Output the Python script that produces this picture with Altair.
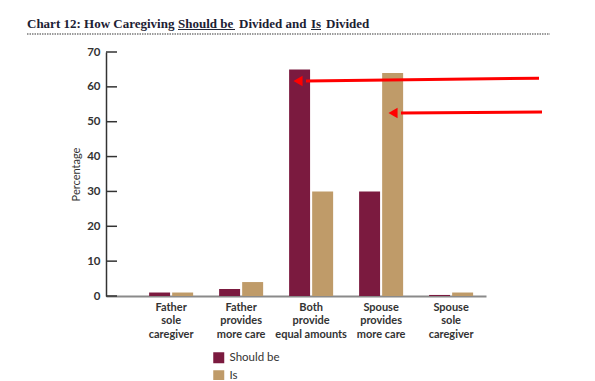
import altair as alt
import pandas as pd

categories = ["Father\nsole\ncaregiver", "Father\nprovides\nmore care", "Both\nprovide\nequal amounts",
              "Spouse\nprovides\nmore care", "Spouse\nsole\ncaregiver"]
should_be = [1, 2, 65, 30, 0.3]
is_vals = [1, 4, 30, 64, 1]
series = ["Should be", "Is"]
colors = ["#7B1A3F", "#BF9B69"]
y_ticks = [0, 10, 20, 30, 40, 50, 60, 70]

# title pieces (text, left x in px relative to plot)
title_parts = ["Chart 12: How Caregiving", "Should be", "Divided and", "Is", "Divided"]
title_x = [-79, 72, 133, 205, 220]
underline_start = [72, 205]
underline_end = [129, 215]

# annotation arrows (tail/tip x in pixels, y in data units)
arrow_tail_x = [433, 436]
arrow_tip_x = [192, 287]
arrow_tail_y = [62.5, 52.8]
arrow_tip_y = [61.7, 52.5]

rows = []
for c, s, i in zip(categories, should_be, is_vals):
    rows.append({"category": c, "series": "Should be", "value": s})
    rows.append({"category": c, "series": "Is", "value": i})
df = pd.DataFrame(rows)

W, H = 380, 244

y_scale = alt.Scale(domain=[0, 70], nice=False)
y_axis = alt.Axis(title="Percentage", values=y_ticks, grid=False, ticks=False,
                  labelOverlap=False, labelBound=False, labelFlush=False,
                  domainColor="#333333", domainWidth=1.5, labelFont="Lato",
                  labelFontWeight="bold", labelFontSize=11.5, labelColor="#333333",
                  labelPadding=6, titleFont="Lato", titleFontWeight="normal",
                  titleFontSize=11, titleColor="#333333", titlePadding=5, orient="left")

bars = alt.Chart(df).mark_bar().encode(
    x=alt.X("category:N", sort=categories,
            scale=alt.Scale(paddingInner=0.371, paddingOuter=0.4, align=0.77),
            axis=alt.Axis(title=None, labelAngle=0, ticks=False, domainColor="#8a8a8a",
                          domainWidth=2, labelFont="Lato", labelFontWeight="bold",
                          labelFontSize=11, labelColor="#333333", labelPadding=5,
                          labelLineHeight=13.5, labelBaseline="top",
                          labelExpr="split(datum.label, '\\n')")),
    xOffset=alt.XOffset("series:N", sort=series, scale=alt.Scale(paddingInner=0.09, paddingOuter=0)),
    y=alt.Y("value:Q", scale=y_scale, axis=y_axis),
    color=alt.Color("series:N", sort=series, scale=alt.Scale(domain=series, range=colors),
                    legend=alt.Legend(title=None, orient="none", legendX=107, legendY=300,
                                      symbolType="square", symbolSize=121, symbolStrokeWidth=0,
                                      symbolOpacity=1, labelFont="Lato", labelFontSize=11.5,
                                      labelColor="#333333", rowPadding=5, labelOffset=5,
                                      padding=0)),
)

tick_df = pd.DataFrame({"t": y_ticks})
ticks = alt.Chart(tick_df).mark_rule(color="#333333", strokeWidth=1.5).encode(
    y=alt.Y("t:Q", scale=y_scale, axis=y_axis), x=alt.value(0), x2=alt.value(11)
)

tdf = pd.DataFrame({"t": title_parts, "x": title_x})
title = alt.Chart(tdf).mark_text(align="left", baseline="alphabetic", font="Liberation Serif",
                                 fontWeight="bold", fontSize=13.0, color="#1c2133").encode(
    x=alt.X("x:Q", scale=None, axis=None), y=alt.value(-24.5), text="t:N")

ul = pd.DataFrame({"a": underline_start, "b": underline_end})
underline = alt.Chart(ul).mark_rule(color="#1c2133", strokeWidth=1).encode(
    x=alt.X("a:Q", scale=None, axis=None), x2="b:Q", y=alt.value(-22.5))

one = pd.DataFrame({"t": [0]})
dotted = alt.Chart(one).mark_rule(color="#9a9a9a", strokeWidth=2, strokeDash=[1.5, 1]).encode(
    x=alt.value(-79), x2=alt.value(444), y=alt.value(-18))

arr = pd.DataFrame({"x0": arrow_tail_x, "x1": [v + 8 for v in arrow_tip_x], "tip": arrow_tip_x,
                    "y0": arrow_tail_y, "y1": arrow_tip_y})
arrow_lines = alt.Chart(arr).mark_rule(color="#ff0000", strokeWidth=3).encode(
    x=alt.X("x0:Q", scale=None, axis=None), x2="x1:Q",
    y=alt.Y("y0:Q", scale=y_scale, axis=y_axis), y2="y1:Q")
arrow_heads = alt.Chart(arr).mark_point(shape="triangle-left", filled=True, color="#ff0000",
                                        opacity=1, size=110).encode(
    x=alt.X("tip:Q", scale=None, axis=None), y=alt.Y("y1:Q", scale=y_scale, axis=y_axis))

chart = alt.layer(bars, ticks, title, underline, dotted, arrow_lines, arrow_heads).properties(
    width=W, height=H,
    autosize=alt.AutoSizeParams(type="none"),
    padding={"left": 98, "top": 44, "right": 101, "bottom": 84},
).configure(background="white").configure_view(strokeWidth=0, stroke="transparent")

chart.save("out.html", embed_options={"renderer": "svg", "actions": False})
